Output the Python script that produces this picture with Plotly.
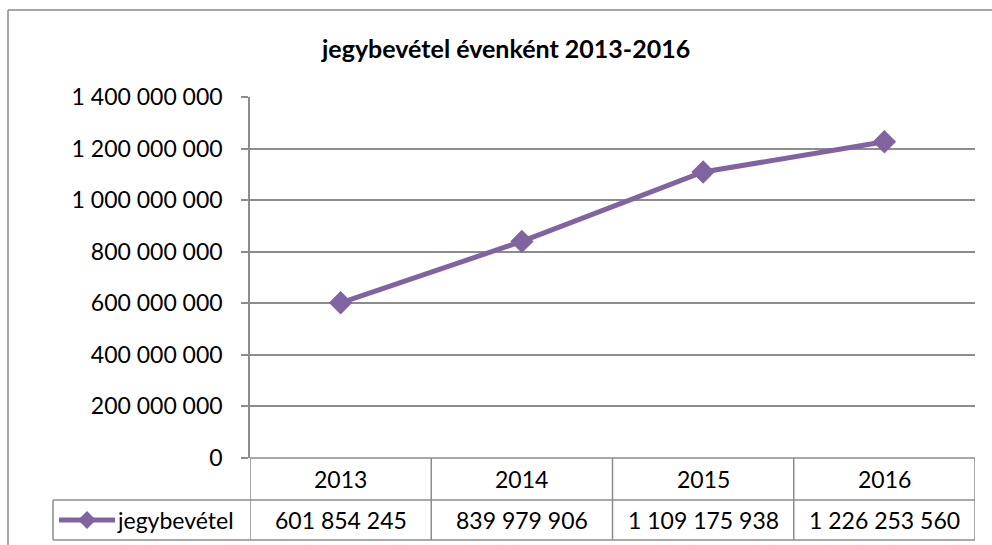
import plotly.graph_objects as go

years = ["2013", "2014", "2015", "2016"]
values = [601854245, 839979906, 1109175938, 1226253560]
value_labels = ["601 854 245", "839 979 906", "1 109 175 938", "1 226 253 560"]
series_name = "jegybevétel"
title_text = "jegybevétel évenként 2013-2016"
y_ticks = [0, 200000000, 400000000, 600000000, 800000000, 1000000000, 1200000000, 1400000000]

W, H = 992, 545
PL, PR, PT, PB = 250, 975, 97, 458  # plot area in pixels
L, T, R, B = PL, PT, W - PR, H - PB
PW, PH = PR - PL, PB - PT

def px(x):
    return (x - PL) / PW

def py(y):
    return (PB - y) / PH

PURPLE = "#8064A2"
GRID = "#8C8C8C"
FONT = "Lato, Carlito, 'Liberation Sans', sans-serif"

fig = go.Figure()
fig.add_trace(go.Scatter(
    x=years, y=values, mode="lines+markers", name=series_name,
    line=dict(color=PURPLE, width=5),
    marker=dict(symbol="diamond", size=18, color=PURPLE),
    showlegend=False, cliponaxis=False, hoverinfo="skip",
))

shapes = []
border = dict(color="#8A8A8A", width=1.5)
shapes.append(dict(type="line", xref="paper", yref="paper",
                   x0=px(8), x1=px(992), y0=py(10), y1=py(10), line=border, layer="below"))
shapes.append(dict(type="line", xref="paper", yref="paper",
                   x0=px(8), x1=px(8), y0=py(10), y1=py(545), line=border, layer="below"))
line_style = dict(color=GRID, width=1.5)
for yy in [458, 500, 540]:
    shapes.append(dict(type="line", xref="paper", yref="paper",
                       x0=px(250), x1=px(975), y0=py(yy), y1=py(yy), line=line_style))
for yy in [500, 540]:
    shapes.append(dict(type="line", xref="paper", yref="paper",
                       x0=px(53), x1=px(250), y0=py(yy), y1=py(yy), line=line_style))
for i in range(len(years) + 1):
    shapes.append(dict(type="line", xref="x", yref="paper",
                       x0=i - 0.5, x1=i - 0.5, y0=py(540), y1=py(458), line=line_style))
shapes.append(dict(type="line", xref="paper", yref="paper",
                   x0=px(53), x1=px(53), y0=py(540), y1=py(500), line=line_style))
shapes.append(dict(type="line", xref="paper", yref="paper",
                   x0=px(59), x1=px(115), y0=py(520), y1=py(520),
                   line=dict(color=PURPLE, width=5)))
cx, cy, d = 87, 520, 9
shapes.append(dict(type="path", xref="paper", yref="paper",
                   path=f"M {px(cx)} {py(cy-d)} L {px(cx+d)} {py(cy)} L {px(cx)} {py(cy+d)} L {px(cx-d)} {py(cy)} Z",
                   fillcolor=PURPLE, line=dict(color=PURPLE, width=0)))

annotations = []
for i, (yr, lab) in enumerate(zip(years, value_labels)):
    annotations.append(dict(x=i, y=py(479), xref="x", yref="paper", text=yr,
                            showarrow=False, font=dict(size=23, color="#000", family=FONT),
                            xanchor="center", yanchor="middle"))
    annotations.append(dict(x=i, y=py(520), xref="x", yref="paper", text=lab,
                            showarrow=False, font=dict(size=23, color="#000", family=FONT),
                            xanchor="center", yanchor="middle"))
annotations.append(dict(x=px(115), y=py(520), xref="paper", yref="paper", text=series_name,
                        showarrow=False, font=dict(size=23, color="#000", family=FONT),
                        xanchor="left", yanchor="middle"))
annotations.append(dict(x=px(505), y=py(48), xref="paper", yref="paper", text="<b>" + title_text + "</b>",
                        showarrow=False, font=dict(size=25, color="#000", family=FONT),
                        xanchor="center", yanchor="middle"))

fig.update_layout(
    width=W, height=H,
    margin=dict(l=L, r=R, t=T, b=B),
    paper_bgcolor="white", plot_bgcolor="white",
    separators=". ",
    font=dict(family=FONT, color="#000"),
    shapes=shapes, annotations=annotations,
    xaxis=dict(type="category", range=[-0.5, 3.5], showticklabels=False,
               showgrid=False, zeroline=False, showline=False, ticks=""),
    yaxis=dict(range=[0, 1400000000], tickvals=y_ticks, tickformat=",d",
               showgrid=True, gridcolor=GRID, gridwidth=1.5, zeroline=False,
               showline=True, linecolor=GRID, linewidth=1.5,
               ticks="outside", ticklen=7, tickcolor=GRID, tickwidth=1.5,
               tickfont=dict(size=23, family=FONT, color="#000"), ticklabelstandoff=14),
)

fig.write_html("out.html", config={"displayModeBar": False},
               post_script="document.body.style.margin='0';document.body.style.overflow='hidden';")
